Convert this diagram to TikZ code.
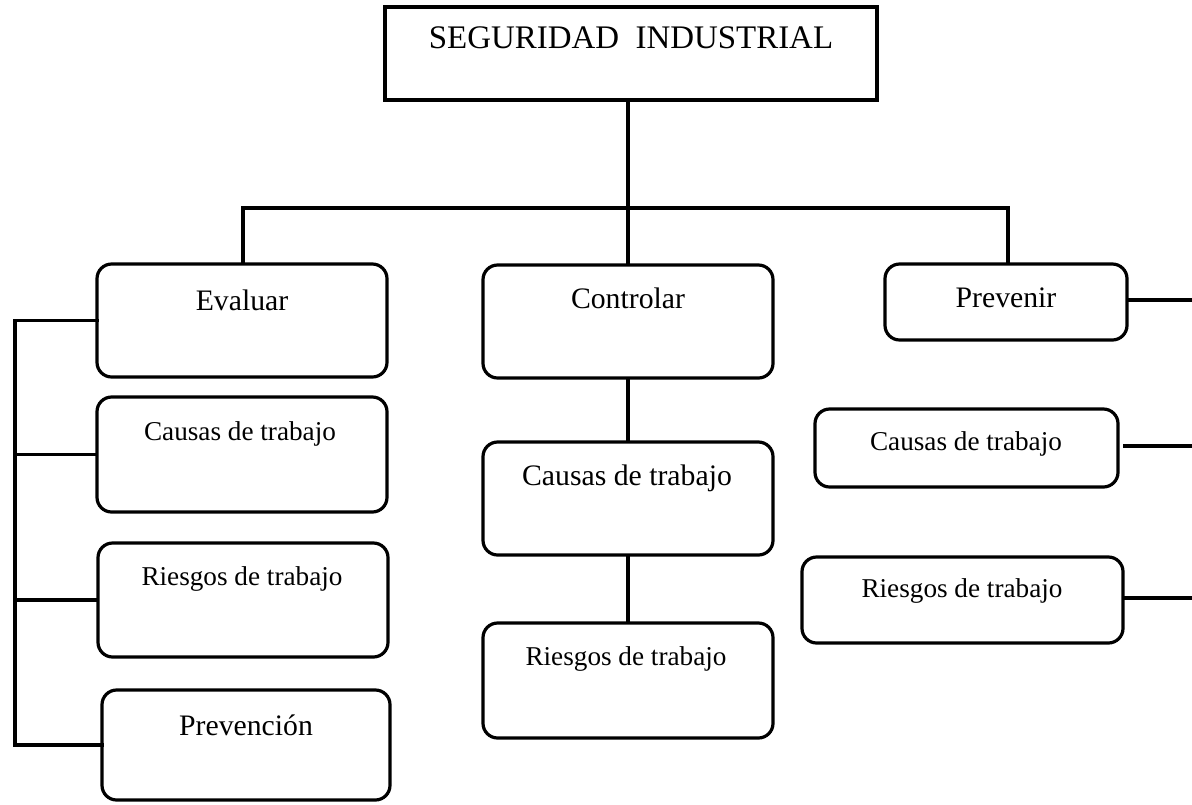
\documentclass[tikz,border=0pt]{standalone}
\usepackage{fontspec}
\setmainfont{Liberation Serif}
\def\pxu{0.75pt}
\begin{document}
\begin{tikzpicture}[x=0.75pt,y=-0.75pt,
  box/.style={draw=black, line width=2.4pt, rounded corners=11pt, inner sep=0pt, outer sep=0pt},
  sqbox/.style={draw=black, line width=2.4pt, inner sep=0pt, outer sep=0pt},
  conn/.style={draw=black, line width=2.4pt},
  txt/.style={inner sep=0pt, anchor=base},
  big/.style={txt, font=\fontsize{24.7}{28}\selectfont},
  mid/.style={txt, font=\fontsize{22.3}{26}\selectfont},
  sml/.style={txt, font=\fontsize{20.4}{24}\selectfont}]
\useasboundingbox (0,0) rectangle (1192,804);

% boxes
\node[sqbox, minimum width=492*\pxu, minimum height=93*\pxu] (top) at (631,53.5) {};
\node[box, minimum width=290*\pxu, minimum height=113*\pxu] (eval) at (242,320.5) {};
\node[box, minimum width=290*\pxu, minimum height=115*\pxu] (causasL) at (242,454.5) {};
\node[box, minimum width=290*\pxu, minimum height=114*\pxu] (riesgosL) at (243,600) {};
\node[box, minimum width=288*\pxu, minimum height=110*\pxu] (prev) at (246,745) {};
\node[box, minimum width=290*\pxu, minimum height=113*\pxu] (ctrl) at (628,321.5) {};
\node[box, minimum width=290*\pxu, minimum height=113*\pxu] (causasC) at (628,498.5) {};
\node[box, minimum width=290*\pxu, minimum height=115*\pxu] (riesgosC) at (628,680.5) {};
\node[box, minimum width=242*\pxu, minimum height=76*\pxu] (preven) at (1006,302) {};
\node[box, minimum width=303*\pxu, minimum height=78*\pxu] (causasR) at (966.5,448) {};
\node[box, minimum width=321*\pxu, minimum height=86*\pxu] (riesgosR) at (962.5,600) {};

% texts
\node[big] (topT) at (631,48) {SEGURIDAD\ \ INDUSTRIAL};
\node[mid] (evalT) at (242,310) {Evaluar};
\node[sml] (causasLT) at (240,440) {Causas de trabajo};
\node[sml] (riesgosLT) at (242,585) {Riesgos de trabajo};
\node[mid] (prevT) at (246,735) {Prevención};
\node[mid] (ctrlT) at (628,308) {Controlar};
\node[mid] (causasCT) at (627,485) {Causas de trabajo};
\node[sml] (riesgosCT) at (626,665) {Riesgos de trabajo};
\node[mid] (prevenT) at (1006,307) {Prevenir};
\node[sml] (causasRT) at (966,450) {Causas de trabajo};
\node[sml] (riesgosRT) at (962,597) {Riesgos de trabajo};

% connectors: top tree
\coordinate (bl) at (243,208);
\coordinate (br) at (1008,208);
\coordinate (bm) at (628,208);
\draw[conn] (bm |- top.south) -- (bm);
\draw[conn, line cap=rect] (bl) -- (br);
\draw[conn] (bl) -- (bl |- eval.north);
\draw[conn] (bm) -- (ctrl.north);
\draw[conn] (br) -- (br |- preven.north);

% left bracket
\coordinate (lt) at (15,320.5);
\draw[conn, line cap=rect] (eval.west) -- (lt) -- (lt |- prev.west) -- (prev.west);
\draw[conn] (causasL.west) -- (causasL.west -| lt);
\draw[conn] (riesgosL.west) -- (riesgosL.west -| lt);

% center column
\draw[conn] (ctrl.south) -- (causasC.north);
\draw[conn] (causasC.south) -- (riesgosC.north);

% right side
\coordinate (r1) at (1192,300);
\coordinate (r2) at (1192,446);
\coordinate (r3) at (1192,598);
\draw[conn] (preven.east |- r1) -- (r1);
\draw[conn] ([xshift=5*\pxu]causasR.east |- r2) -- (r2);
\draw[conn] (riesgosR.east |- r3) -- (r3);
\end{tikzpicture}
\end{document}
